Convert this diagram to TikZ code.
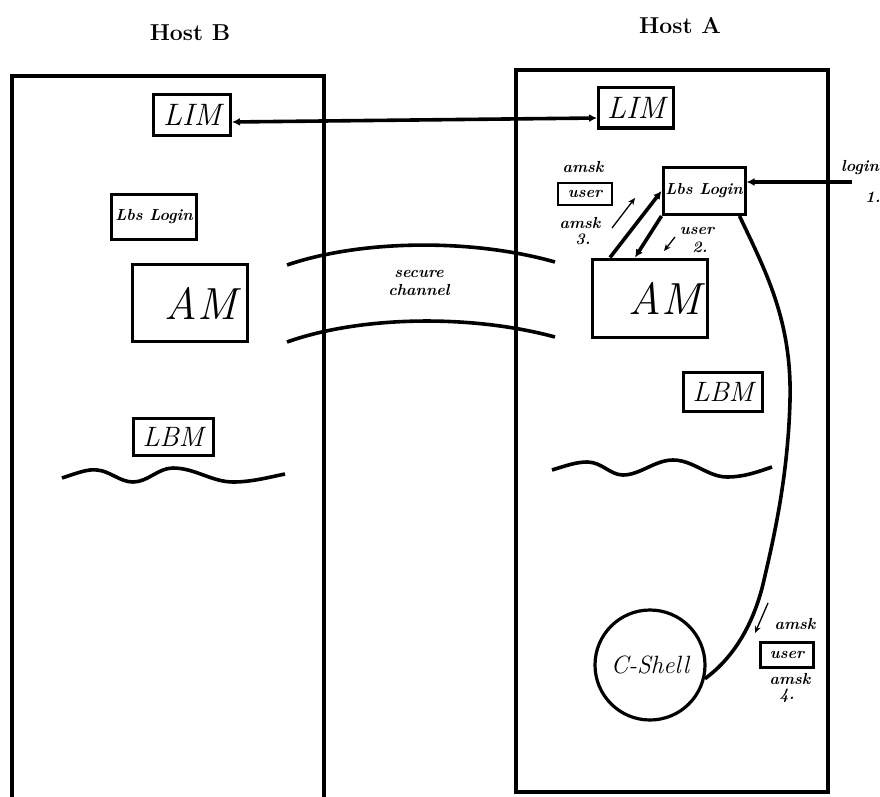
\documentclass[tikz,border=0pt]{standalone}
\usepackage{fontspec}
\usetikzlibrary{arrows.meta}
\begin{document}
\begin{tikzpicture}[x=1pt,y=-1pt,
  frame/.style={line width=3.2pt},
  box/.style={draw, line width=3pt, inner sep=0pt},
  wire/.style={line width=3.6pt},
  pointer/.style={line width=1.3pt, -{Stealth[length=7pt,width=6pt]}},
  tiny/.style={font=\fontsize{16}{16}\selectfont\bfseries\itshape, inner sep=0pt},
  hostfont/.style={font=\fontsize{23}{24}\selectfont\bfseries},
  limfont/.style={font=\fontsize{31}{31}\selectfont\itshape},
  lbmfont/.style={font=\fontsize{28}{28}\selectfont\itshape},
  amfont/.style={font=\fontsize{45}{45}\selectfont\itshape},
  lbsfont/.style={font=\fontsize{16}{16}\selectfont\bfseries\itshape},
  shellfont/.style={font=\fontsize{25}{25}\selectfont\itshape}]
\useasboundingbox (0,0) rectangle (880,797);

% host frames
\draw[frame] (12,76) rectangle (324,802);
\draw[frame] (516,70) rectangle (828,792);

\node[hostfont] (hostB) at (190,33) {Host B};
\node[hostfont] (hostA) at (680,26) {Host A};

% Host B
\node[box, limfont, minimum width=77pt, minimum height=40pt] (limB) at (192,115) {LIM};
\node[box, lbsfont, minimum width=85pt, minimum height=45pt] (lbsB) at (154,217) {Lbs Login};
\node[box, amfont, minimum width=115pt, minimum height=77pt] (amB) at (190,303) {\hspace*{22pt}AM};
\node[box, lbmfont, minimum width=80pt, minimum height=37pt] (lbmB) at (173,437) {LBM};
\draw[wire] (62,478) .. controls (80,472) and (88,469) .. (97,470)
  .. controls (110,471) and (120,482) .. (133,482)
  .. controls (148,482) and (158,468) .. (173,468)
  .. controls (195,468) and (212,482) .. (233,482)
  .. controls (252,482) and (270,477) .. (285,474);

% Host A
\node[box, limfont, minimum width=75pt, minimum height=40pt] (limA) at (636,108) {LIM};
\node[box, lbsfont, minimum width=82pt, minimum height=47pt] (lbsA) at (704,191) {Lbs Login};
\node[box, amfont, minimum width=115pt, minimum height=78pt] (amA) at (650,298) {\hspace*{30pt}AM};
\node[box, lbmfont, minimum width=79pt, minimum height=39pt] (lbmA) at (723,392) {LBM};
\node[draw, circle, line width=3.2pt, minimum size=110pt, inner sep=0pt, shellfont] (cshell) at (650,665) {C-Shell};
\draw[wire] (552,470) .. controls (565,466) and (576,462) .. (587,462)
  .. controls (602,462) and (610,475) .. (623,475)
  .. controls (640,475) and (655,460) .. (673,460)
  .. controls (693,460) and (708,477) .. (727,477)
  .. controls (745,477) and (760,471) .. (772,467);

% LIM link
\draw[wire, {Latex[length=8pt,width=8pt]}-{Latex[length=8pt,width=8pt]}]
  ([yshift=-7pt]limB.east) -- ([yshift=-10pt]limA.west);

% secure channel
\draw[wire] (287,265) .. controls (360,240) and (470,238) .. (555,262);
\draw[wire] (287,342) .. controls (360,316) and (470,314) .. (555,337);
\node[tiny, align=center] (sec) at (419,283) {secure\\[2pt]channel};

% login
\coordinate (loginEnd) at (852,182);
\draw[wire, -{Latex[length=8pt,width=8pt]}] (loginEnd) -- (loginEnd -| lbsA.east);
\node[tiny] (login) at (860,168) {login};
\node[tiny] (n1) at (873,197) {1.};

% AM <-> Lbs Login
\draw[wire, -{Latex[length=8pt,width=8pt]}] ([xshift=19pt]amA.north west) -- (lbsA.west);
\draw[wire, -{Latex[length=8pt,width=8pt]}] (lbsA.south west) -- ([xshift=44pt]amA.north west);

% step 3 label
\node[tiny] (amsk3a) at (583,167) {amsk};
\node[box, tiny, line width=2.2pt, minimum width=54pt, minimum height=22pt] (user3) at (585,194) {user};
\node[tiny] (amsk3b) at (580,223) {amsk};
\node[tiny] (n3) at (583,239) {3.};
\coordinate (p3s) at (612,228);
\coordinate (p3e) at (635,198);
\draw[pointer] (p3s) -- (p3e);

% step 2 label
\node[tiny] (user2) at (697,231) {user};
\node[tiny] (n2) at (700,247) {2.};
\coordinate (p2s) at (675,237);
\coordinate (p2e) at (664,251);
\draw[pointer] (p2s) -- (p2e);

% curve Lbs Login -> C-Shell
\coordinate (cs) at ([xshift=-7pt]lbsA.south east);
\coordinate (ce) at (cshell.-14);
\draw[wire] (cs) .. controls (765,270) and (792,320) .. (790,400)
  .. controls (788,480) and (772,545) .. (764,580)
  .. controls (755,620) and (736,656) .. (ce);

% step 4 label
\coordinate (p4s) at (768,603);
\coordinate (p4e) at (755,633);
\draw[pointer] (p4s) -- (p4e);
\node[tiny] (amsk4a) at (795,624) {amsk};
\node[box, tiny, line width=2.2pt, minimum width=53pt, minimum height=25pt] (user4) at (787,655) {user};
\node[tiny] (amsk4b) at (790,679) {amsk};
\node[tiny] (n4) at (787,696) {4.};
\end{tikzpicture}
\end{document}
